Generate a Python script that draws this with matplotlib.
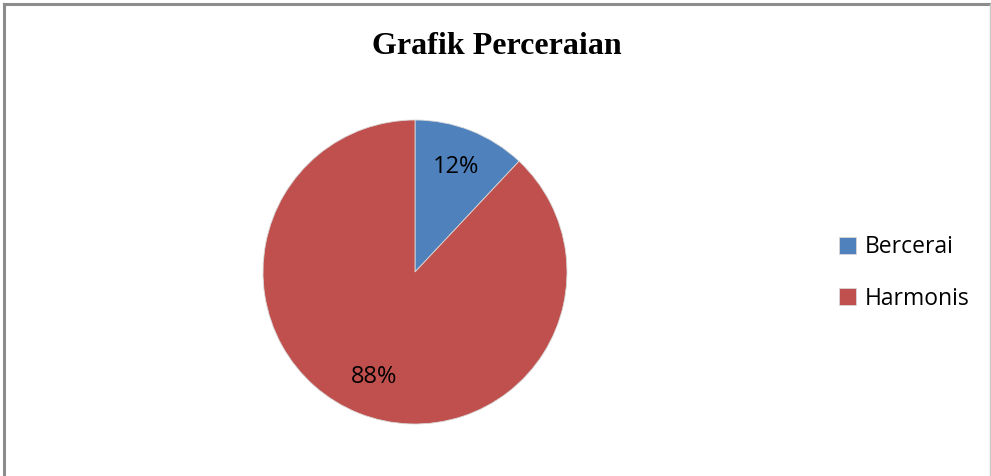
import matplotlib
matplotlib.use("Agg")
import matplotlib.pyplot as plt
from matplotlib.lines import Line2D

# ============  data  ============
labels = ["Bercerai", "Harmonis"]
values = [12, 88]
colors = ["#4F81BD", "#C0504D"]
title = "Grafik Perceraian"

W, H = 991, 476
fig = plt.figure(figsize=(W / 100, H / 100), dpi=100)

# pie area: centre (415, 272) px, radius 152 px
cx, cy, r = 415, 272, 152
ax = fig.add_axes([(cx - r) / W, (H - cy - r) / H, 2 * r / W, 2 * r / H])
wedges, texts, autotexts = ax.pie(
    values, colors=colors, startangle=90, counterclock=False,
    autopct="%d%%", pctdistance=0.74, radius=1.0,
    wedgeprops=dict(linewidth=0.6, edgecolor="#d8d8d8"),
    textprops=dict(fontsize=17, color="black", family="Open Sans"),
)
ax.set_aspect("equal")
ax.set_xlim(-1, 1)
ax.set_ylim(-1, 1)

fig.text(497 / W, 1 - 46 / H, title, ha="center", va="center",
         fontsize=23, fontweight="bold", family="Liberation Serif")

fig.legend(wedges, labels, loc="center left", bbox_to_anchor=(818 / W, 1 - 273 / H),
           frameon=False, prop=dict(family="Open Sans", size=16.5),
           handlelength=0.75, handleheight=0.75, handletextpad=0.4, labelspacing=1.2)

# chart border
grey = "#8c8c8c"
fig.add_artist(Line2D([4 / W, 4 / W], [0, 1 - 4 / H], color=grey, lw=2.2))
fig.add_artist(Line2D([4 / W, 1], [1 - 4 / H, 1 - 4 / H], color=grey, lw=2.2))
fig.add_artist(Line2D([989.5 / W, 989.5 / W], [0, 1 - 4 / H], color="#c8c8c8", lw=1))

fig.savefig("out.png", dpi=100)
